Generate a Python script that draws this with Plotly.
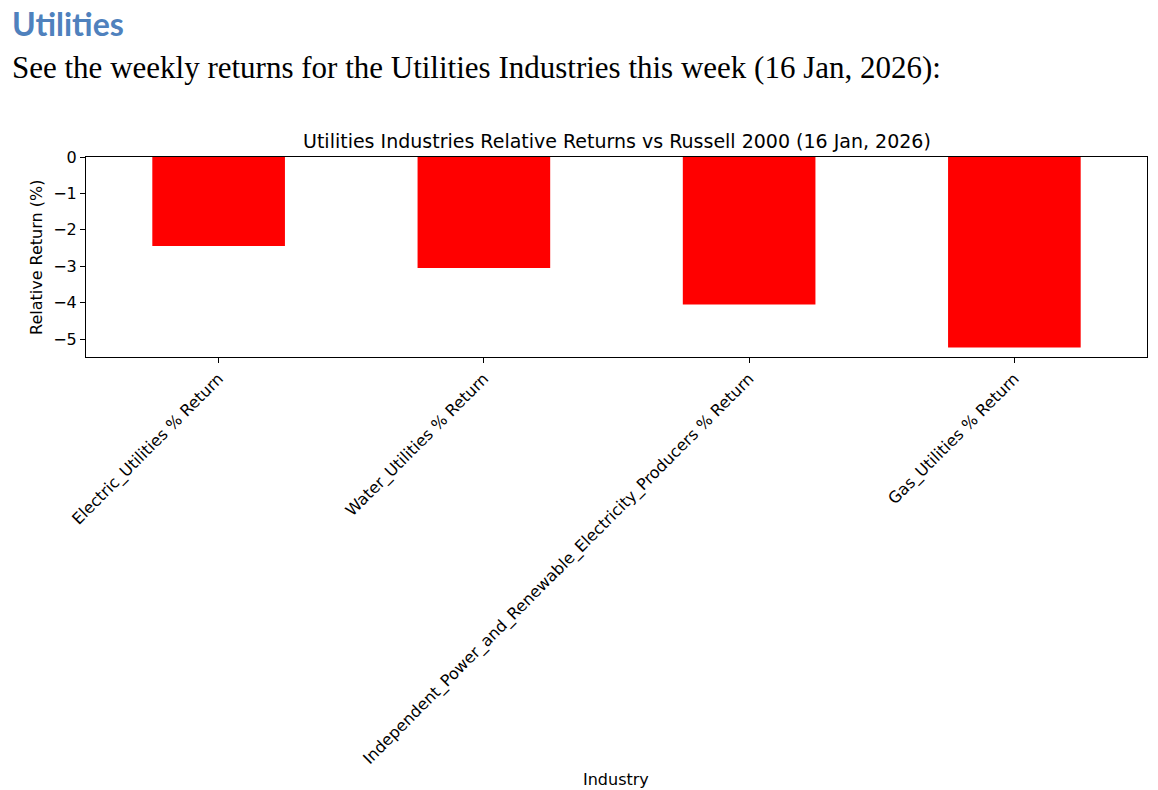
import plotly.graph_objects as go

categories = [
    "Electric_Utilities % Return",
    "Water_Utilities % Return",
    "Independent_Power_and_Renewable_Electricity_Producers % Return",
    "Gas_Utilities % Return",
]
values = [-2.44, -3.05, -4.05, -5.23]
y_ticks = [0, -1, -2, -3, -4, -5]

W, H = 1158, 790
L, T = 86, 157
R = W - 1147
B = H - 357
PW, PH = W - L - R, H - T - B


def px(x):
    return (x - L) / PW


def py(y):
    return (H - B - y) / PH


fig = go.Figure()
fig.add_trace(go.Bar(
    x=categories, y=values, width=0.5,
    marker=dict(color="#ff0000", line=dict(width=0)),
))

fig.update_layout(
    width=W, height=H,
    margin=dict(l=L, r=R, t=T, b=B, autoexpand=False),
    paper_bgcolor="white", plot_bgcolor="white",
    showlegend=False,
    font=dict(family="DejaVu Sans", size=16, color="black"),
    xaxis=dict(
        range=[-0.5, 3.5], tickangle=-45,
        showline=True, linecolor="black", linewidth=1, mirror=True,
        ticks="outside", ticklen=5, tickcolor="black",
        showgrid=False, zeroline=False,
        tickfont=dict(family="DejaVu Sans", size=16, color="black"),
    ),
    yaxis=dict(
        range=[-5.49, 0], tickvals=y_ticks,
        showline=True, linecolor="black", linewidth=1, mirror=True,
        ticks="outside", ticklen=5, tickcolor="black",
        showgrid=False, zeroline=False,
        tickfont=dict(family="DejaVu Sans", size=16, color="black"),
    ),
    annotations=[
        dict(text="<b>Utilities</b>", x=px(10), y=py(23), xref="paper", yref="paper",
             xanchor="left", yanchor="middle", showarrow=False,
             font=dict(family="Lato", size=32, color="#4F81BD")),
        dict(text="See the weekly returns for the Utilities Industries this week (16 Jan, 2026):",
             x=px(10), y=py(68), xref="paper", yref="paper",
             xanchor="left", yanchor="middle", showarrow=False,
             font=dict(family="Liberation Serif", size=31, color="black")),
        dict(text="Utilities Industries Relative Returns vs Russell 2000 (16 Jan, 2026)",
             x=0.5, y=py(141), xref="paper", yref="paper",
             xanchor="center", yanchor="middle", showarrow=False,
             font=dict(family="DejaVu Sans", size=19, color="black")),
        dict(text="Relative Return (%)", x=px(36), y=py(258), xref="paper", yref="paper",
             xanchor="center", yanchor="middle", showarrow=False, textangle=-90,
             font=dict(family="DejaVu Sans", size=16, color="black")),
        dict(text="Industry", x=px(616), y=py(779), xref="paper", yref="paper",
             xanchor="center", yanchor="middle", showarrow=False,
             font=dict(family="DejaVu Sans", size=16, color="black")),
    ],
)

fig.write_html(
    "out.html",
    config={"displayModeBar": False},
    post_script="document.body.style.margin='0';document.body.style.overflow='hidden';",
)
